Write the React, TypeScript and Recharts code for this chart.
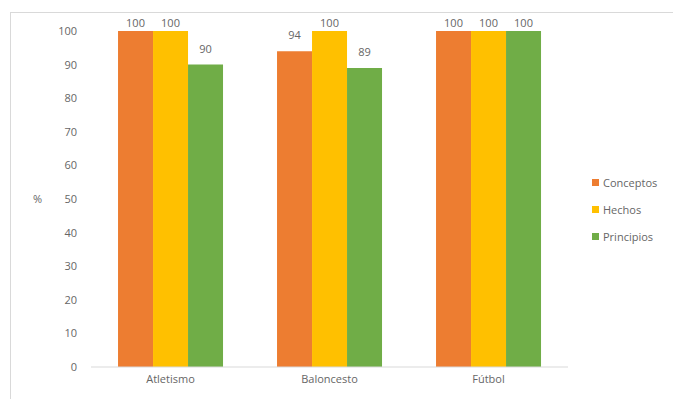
import React from 'react';
import { BarChart, Bar, XAxis, YAxis, LabelList, Legend } from 'recharts';

const categories = ['Atletismo', 'Baloncesto', 'Fútbol'];
const conceptos = [100, 94, 100];
const hechos = [100, 100, 100];
const principios = [90, 89, 100];
const yTicks = [0, 10, 20, 30, 40, 50, 60, 70, 80, 90, 100];

const seriesNames = ['Conceptos', 'Hechos', 'Principios'];
const colors = ['#ED7D31', '#FFC000', '#70AD47'];

const data = categories.map((c, i) => ({
  name: c,
  Conceptos: conceptos[i],
  Hechos: hechos[i],
  Principios: principios[i],
}));

const FONT = '"Open Sans", sans-serif';
const TEXT = '#666666';

const LegendContent = () => (
  <div style={{ fontFamily: FONT, fontSize: 11, color: TEXT }}>
    {seriesNames.map((n, i) => (
      <div key={n} style={{ display: 'flex', alignItems: 'center', height: 27 }}>
        <span style={{ width: 7, height: 7, background: colors[i], display: 'inline-block', marginRight: 4 }} />
        <span>{n}</span>
      </div>
    ))}
  </div>
);

const BarLabel = (props: any) => {
  const { x, y, width, value } = props;
  const off = Number(value) >= 100 ? 4 : 12;
  return (
    <text x={x + width / 2} y={y - off} textAnchor="middle" fill={TEXT} fontSize={11} fontFamily={FONT}>
      {value}
    </text>
  );
};

export default function App() {
  return (
    <div style={{ position: 'absolute', left: 0, top: 0, width: 673, height: 399, background: '#fff', overflow: 'hidden' }}>
      <div style={{ position: 'absolute', left: 10, top: 12, width: 700, height: 420, borderLeft: '1px solid #d9d9d9', borderTop: '1px solid #d9d9d9' }} />
      <div style={{ position: 'absolute', left: 0, top: 0 }}>
        <BarChart width={673} height={399} data={data} margin={{ top: 31, right: 105, bottom: 2, left: 0 }} barCategoryGap="17%" barGap={0}>
          <XAxis dataKey="name" axisLine={{ stroke: '#d9d9d9' }} tickLine={false} height={30}
            tick={{ fill: TEXT, fontSize: 11, fontFamily: FONT }} />
          <YAxis domain={[0, 100]} ticks={yTicks} axisLine={false} tickLine={false} width={91} tickMargin={8}
            interval={0}
            tick={{ fill: TEXT, fontSize: 11, fontFamily: FONT }}
            label={{ value: '%', angle: 0, position: 'insideLeft', offset: 33, fill: TEXT, fontSize: 11, fontFamily: FONT }} />
          <Legend layout="vertical" align="center" verticalAlign="middle" content={<LegendContent />}
            wrapperStyle={{ left: 592, top: 169, width: 80, height: 84 }} />
          {seriesNames.map((n, i) => (
            <Bar key={n} dataKey={n} fill={colors[i]} isAnimationActive={false}>
              <LabelList dataKey={n} content={<BarLabel />} />
            </Bar>
          ))}
        </BarChart>
      </div>
    </div>
  );
}
